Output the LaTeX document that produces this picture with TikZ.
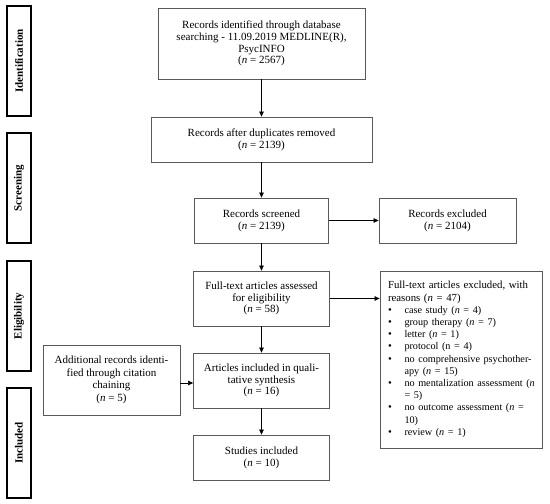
\documentclass[tikz,border=0pt]{standalone}
\usepackage{fontspec}
\setmainfont{Liberation Serif}
\usetikzlibrary{arrows.meta}
\newcommand{\pbul}[1]{\mbox{\makebox[16.5pt][l]{\textbullet}\fontsize{10.2}{12.2}\selectfont #1}}
\newcommand{\pcont}[1]{\mbox{\hspace*{16.5pt}\fontsize{10.2}{12.2}\selectfont #1}}
\newcommand{\pln}[1]{\mbox{#1}}
\begin{document}
\begin{tikzpicture}[x=1pt,y=-1pt,
  box/.style={draw=black!65, line width=0.8pt, align=center, inner sep=2pt,
    font=\fontsize{11}{11.8}\selectfont},
  bar/.style={draw=black, line width=1.8pt, rotate=90, minimum width=110pt,
    minimum height=24pt, inner sep=0pt, font=\fontsize{11}{12}\selectfont\bfseries},
  arr/.style={-{Triangle[length=5pt,width=4.5pt]}, line width=0.6pt, black}]
\useasboundingbox (0,0) rectangle (550,504);
% side bars
\node[bar] (idb) at (19,61) {Identification};
\node[bar] (scb) at (19,188) {Screening};
\node[bar] (elb) at (19,316) {Eligibility};
\node[bar] (inb) at (19,443) {Included};
% main column
\node[box, minimum width=207pt, minimum height=71pt] (b1) at (261.5,43.5)
  {Records identified through database\\searching - 11.09.2019 MEDLINE(R),\\PsycINFO\\(\textit{n} = 2567)};
\node[box, minimum width=221pt, minimum height=45pt] (b2) at (261.5,139.5)
  {Records after duplicates removed\\(\textit{n} = 2139)};
\node[box, minimum width=134pt, minimum height=45pt] (b3) at (261.5,220.5)
  {Records screened\\(\textit{n} = 2139)};
\node[box, minimum width=137pt, minimum height=45pt] (ex1) at (447.5,220.5)
  {Records excluded\\(\textit{n} = 2104)};
\node[box, minimum width=136pt, minimum height=55pt] (b4) at (261.5,298.5)
  {Full-text articles assessed\\for eligibility\\(\textit{n} = 58)};
\node[box, minimum width=162pt, minimum height=177pt, text width=146pt,
  inner xsep=8pt, align=left, font=\fontsize{10.8}{12.2}\selectfont] (ex2) at (461,359.5)
  {\pln{Full-text articles excluded, with}\\
   \pln{reasons (\textit{n} = 47)}\\
   \pbul{case study (\textit{n} = 4)}\\
   \pbul{group therapy (\textit{n} = 7)}\\
   \pbul{letter (\textit{n} = 1)}\\
   \pbul{protocol (n = 4)}\\
   \pbul{no comprehensive psychother-}\\
   \pcont{apy (\textit{n} = 15)}\\
   \pbul{no mentalization assessment (\textit{n}}\\
   \pcont{= 5)}\\
   \pbul{no outcome assessment (\textit{n} =}\\
   \pcont{10)}\\
   \pbul{review (\textit{n} = 1)}};
\node[box, minimum width=137pt, minimum height=70pt, font=\fontsize{11}{12.6}\selectfont] (add) at (111.5,380)
  {Additional records identi-\\fied through citation\\chaining\\(\textit{n} = 5)};
\node[box, minimum width=136pt, minimum height=55pt] (art) at (261.5,380.5)
  {Articles included in quali-\\tative synthesis\\(\textit{n} = 16)};
\node[box, minimum width=136pt, minimum height=45pt] (st) at (261.5,457.5)
  {Studies included\\(\textit{n} = 10)};
% connectors
\draw[arr] (b1) -- (b2);
\draw[arr] (b2) -- (b3);
\draw[arr] (b3) -- (b4);
\draw[arr] (b4) -- (art);
\draw[arr] (art) -- (st);
\draw[arr] (b3) -- (ex1);
\draw[arr] (b4.east) -- (b4.east -| ex2.west);
\draw[arr] ([yshift=-3pt]add.east) -- ([yshift=-3pt]add.east -| art.west);
\end{tikzpicture}
\end{document}
